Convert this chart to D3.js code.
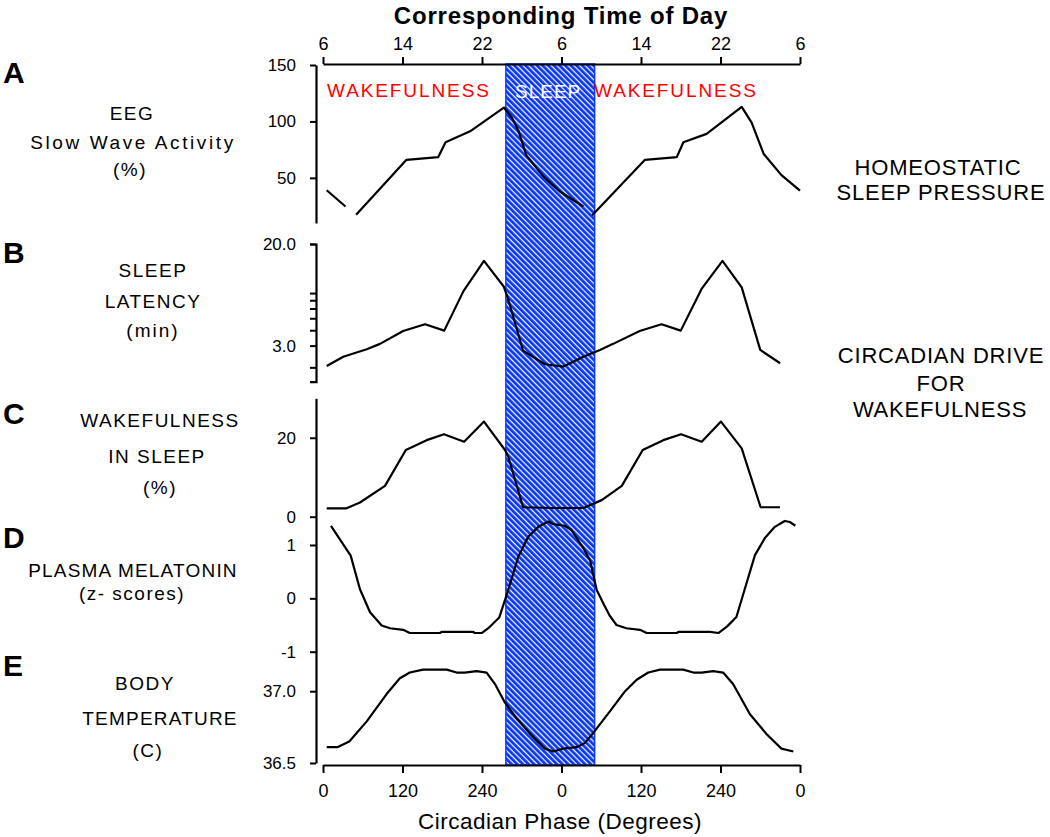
<!DOCTYPE html>
<html>
<head>
<meta charset="utf-8">
<script src="https://cdn.jsdelivr.net/npm/d3@7"></script>
<style>
  html, body { margin: 0; padding: 0; background: #fff; }
  svg { display: block; font-family: "Liberation Sans", Arial, sans-serif; }
</style>
</head>
<body>
<svg id="chart" width="1050" height="837"></svg>
<script>
// ---------------- DATA ----------------
const phaseTicks = [0, 120, 240, 360, 480, 600, 720];
const phaseTickLabels = ["0", "120", "240", "0", "120", "240", "0"];
const timeTickLabels = ["6", "14", "22", "6", "14", "22", "6"];
const sleepPhase = [276, 410];

// A: EEG slow wave activity (%), null = gap
const phaseA = [5.6, 34, 42, 50, 126, 174, 185, 222, 273, 285, 295, 307, 333, 358, 393, 400, 406, 486, 534, 544, 579, 632, 647, 665, 692, 720];
const swaA   = [39, 24.6, null, 17.3, 66, 68.4, 81.6, 91.2, 112.3, 103.5, 91.8, 69.9, 50.9, 37.7, 24.6, null, 16.7, 66, 68.4, 81.6, 89, 112.9, 99, 71.4, 52.4, 38.7];

// B: sleep latency (min)
const phaseB = [5.6, 30.6, 66, 86, 121, 154, 183, 212, 243, 273, 280, 302, 335, 363, 393, 418, 438, 478, 511, 540, 572, 603, 632, 660, 690];
const latB   = [2.05, 2.44, 2.80, 3.10, 3.94, 4.47, 3.97, 8.3, 14.6, 9.0, 7.0, 2.73, 2.12, 2.03, 2.44, 2.77, 3.10, 3.94, 4.47, 3.97, 8.75, 14.6, 8.9, 2.77, 2.16];

// C: wakefulness in sleep (%)
const phaseC = [5.6, 34.7, 55.8, 93.6, 125, 156.5, 182.6, 213, 243, 274.7, 279.7, 302, 347.6, 393, 420.7, 451, 482.6, 513.6, 540.4, 571.6, 600.7, 632, 660.6, 689.8];
const wakeC  = [2.1, 2.1, 3.6, 7.8, 16.9, 19.4, 20.9, 19, 24.1, 16.9, 15.2, 2.4, 2.2, 2.2, 4.2, 7.8, 16.9, 19.4, 20.9, 19, 24.1, 17.3, 2.4, 2.4];

// D: plasma melatonin (z-scores)
const phaseD = [12, 41.8, 55.8, 71, 88.6, 101, 121, 131, 176.6, 179, 227, 229, 239.5, 249.5, 266, 279.7, 294.8, 310, 325, 340, 347.6, 365, 375, 393, 403, 413, 423, 433, 443, 458, 478.5, 488.6, 534, 536.5, 584, 596.7, 609.7, 624, 637, 652, 667, 682, 697, 705, 713];
const melD   = [1.36, 0.80, 0.17, -0.26, -0.51, -0.56, -0.59, -0.65, -0.65, -0.63, -0.63, -0.65, -0.65, -0.56, -0.36, 0.16, 0.78, 1.16, 1.34, 1.44, 1.39, 1.36, 1.28, 0.94, 0.72, 0.16, -0.09, -0.33, -0.50, -0.56, -0.59, -0.65, -0.65, -0.63, -0.63, -0.65, -0.53, -0.35, 0.19, 0.81, 1.13, 1.34, 1.45, 1.43, 1.36];

// E: body temperature (C)
const phaseE = [5.6, 21.6, 39.7, 66, 96, 116, 131, 151, 186.7, 201.8, 214, 232, 247, 259.6, 274.7, 292.4, 317.4, 335, 347.6, 362.7, 383, 395.5, 408, 433, 456, 473.5, 491, 508.7, 543.8, 559, 571.6, 589, 604, 619, 644.5, 669.7, 692, 710];
const tempE  = [36.61, 36.61, 36.65, 36.79, 36.98, 37.09, 37.13, 37.15, 37.15, 37.13, 37.13, 37.14, 37.13, 37.05, 36.92, 36.81, 36.68, 36.60, 36.58, 36.60, 36.61, 36.64, 36.71, 36.86, 37.0, 37.08, 37.13, 37.15, 37.15, 37.13, 37.13, 37.14, 37.13, 37.05, 36.84, 36.70, 36.60, 36.58];

// Tick values / labels
const ticksA = [50, 100, 150];
const ticksB = [20, 8, 7, 6, 5, 4, 3, 2];
const labelsB = {20: "20.0", 3: "3.0"};
const ticksC = [0, 20];
const ticksD = [-1, 0, 1];
const ticksE = [36.5, 37.0];

// ---------------- DRAWING ----------------
const svg = d3.select("#chart");
const X0 = 323, X1 = 800, YAX = 316;
const TOP = 64, BOTTOM = 765;

const x = d3.scaleLinear().domain([0, 720]).range([X0, X1]);

// hatch pattern for sleep box
const defs = svg.append("defs");
const pat = defs.append("pattern")
  .attr("id", "hatch").attr("patternUnits", "userSpaceOnUse")
  .attr("width", 4).attr("height", 4)
  .attr("patternTransform", "rotate(45)");
pat.append("rect").attr("width", 4).attr("height", 4).attr("fill", "#0836f8");
pat.append("rect").attr("x", 0).attr("y", 0).attr("width", 4).attr("height", 1.2).attr("fill", "#ffffff");

// sleep box
svg.append("rect")
  .attr("x", x(sleepPhase[0])).attr("y", TOP)
  .attr("width", x(sleepPhase[1]) - x(sleepPhase[0]))
  .attr("height", BOTTOM - TOP)
  .attr("fill", "url(#hatch)")
  .attr("stroke", "#0a3cff").attr("stroke-width", 1.5);

// Titles
svg.append("text").attr("x", 561).attr("y", 24).attr("text-anchor", "middle")
  .attr("font-size", 24).attr("font-weight", "bold").attr("letter-spacing", 0.8)
  .text("Corresponding Time of Day");
svg.append("text").attr("x", 560).attr("y", 829).attr("text-anchor", "middle")
  .attr("font-size", 22.5).attr("letter-spacing", 0.5)
  .text("Circadian Phase (Degrees)");

// top axis
const topAxis = d3.axisTop(x).tickValues(phaseTicks)
  .tickFormat((d, i) => timeTickLabels[i]).tickSize(7).tickSizeOuter(0).tickPadding(7);
const gTop = svg.append("g").attr("transform", `translate(0,${TOP})`).call(topAxis);
// bottom axis
const botAxis = d3.axisBottom(x).tickValues(phaseTicks)
  .tickFormat((d, i) => phaseTickLabels[i]).tickSize(8).tickSizeOuter(0).tickPadding(11);
const gBot = svg.append("g").attr("transform", `translate(0,${BOTTOM})`).call(botAxis);
[gTop, gBot].forEach(g => {
  g.selectAll("path.domain").attr("stroke", "#000").attr("stroke-width", 2.2);
  g.selectAll(".tick line").attr("stroke", "#000").attr("stroke-width", 2);
  g.selectAll(".tick text").attr("fill", "#000").attr("font-size", 18)
    .attr("font-family", "Liberation Sans, Arial, sans-serif");
});

// panels
const panels = [
  { letter: "A", ly: 83, phase: phaseA, vals: swaA,
    y: d3.scaleLinear().domain([10, 150]).range([223, 65]),
    ticks: ticksA, fmt: d => String(d), outer: 0,
    labels: [["EEG", 132, 120, 1.5], ["Slow Wave Activity", 133, 149, 2.6], ["(%)", 130, 176, 1.5]] },
  { letter: "B", ly: 263, phase: phaseB, vals: latB,
    y: d3.scaleLog().domain([1.53, 20]).range([381.7, 244]),
    ticks: ticksB, fmt: d => labelsB[d] || "", outer: 6,
    labels: [["SLEEP", 153, 277, 1.5], ["LATENCY", 153, 308, 1.5], ["(min)", 153, 337, 2]] },
  { letter: "C", ly: 424, phase: phaseC, vals: wakeC,
    y: d3.scaleLinear().domain([0, 30]).range([516.7, 398.3]),
    ticks: ticksC, fmt: d => String(d), outer: 0,
    labels: [["WAKEFULNESS", 160, 427, 1.5], ["IN SLEEP", 157, 463, 1.5], ["(%)", 160, 494, 1.5]] },
  { letter: "D", ly: 548, phase: phaseD, vals: melD,
    y: d3.scaleLinear().domain([-1, 1.53]).range([651.7, 516.7]),
    ticks: ticksD, fmt: d => String(d), outer: 0,
    labels: [["PLASMA MELATONIN", 133, 577, 1.2], ["(z- scores)", 132, 600, 1.5]] },
  { letter: "E", ly: 676, phase: phaseE, vals: tempE,
    y: d3.scaleLinear().domain([36.5, 37.28]).range([763, 651]),
    ticks: ticksE, fmt: d3.format(".1f"), outer: 0,
    labels: [["BODY", 145, 690, 1.5], ["TEMPERATURE", 160, 725, 1.2], ["(C)", 148, 757, 1.5]] }
];

panels.forEach(p => {
  const ax = d3.axisLeft(p.y).tickValues(p.ticks).tickFormat(p.fmt)
    .tickSize(6).tickSizeOuter(p.outer).tickPadding(14);
  const g = svg.append("g").attr("transform", `translate(${YAX},0)`).call(ax);
  g.selectAll("path.domain").attr("stroke", "#000").attr("stroke-width", 2.2);
  g.selectAll(".tick line").attr("stroke", "#000").attr("stroke-width", 2);
  g.selectAll(".tick text").attr("fill", "#000").attr("font-size", 17)
    .attr("font-family", "Liberation Sans, Arial, sans-serif");

  const pts = p.phase.map((ph, i) => ({ ph, v: p.vals[i] }));
  const line = d3.line().defined(d => d.v !== null)
    .x(d => x(d.ph)).y(d => p.y(d.v));
  svg.append("path").datum(pts).attr("d", line)
    .attr("fill", "none").attr("stroke", "#000").attr("stroke-width", 2.2)
    .attr("stroke-linejoin", "round");

  svg.append("text").attr("x", 3).attr("y", p.ly)
    .attr("font-size", 30).attr("font-weight", "bold").text(p.letter);

  p.labels.forEach(([t, lx, ly, ls]) => {
    svg.append("text").attr("x", lx).attr("y", ly).attr("text-anchor", "middle")
      .attr("font-size", 19).attr("letter-spacing", ls).text(t);
  });
});

// in-plot texts
svg.append("text").attr("x", 327).attr("y", 97).attr("fill", "#ff0000")
  .attr("font-size", 19).attr("letter-spacing", 1.9).text("WAKEFULNESS");
svg.append("text").attr("x", 594).attr("y", 97).attr("fill", "#ff0000")
  .attr("font-size", 19).attr("letter-spacing", 1.9).text("WAKEFULNESS");
svg.append("text").attr("x", 515).attr("y", 98).attr("fill", "#ffffff")
  .attr("font-size", 19).attr("letter-spacing", 1).text("SLEEP");

// right-side annotations
const rightTexts = [["HOMEOSTATIC", 938, 175], ["SLEEP PRESSURE", 941, 200],
  ["CIRCADIAN DRIVE", 941, 363], ["FOR", 941, 391], ["WAKEFULNESS", 940, 417]];
rightTexts.forEach(([t, rx, ry]) => {
  svg.append("text").attr("x", rx).attr("y", ry).attr("text-anchor", "middle")
    .attr("font-size", 22).attr("letter-spacing", 0.8).text(t);
});
</script>
</body>
</html>
